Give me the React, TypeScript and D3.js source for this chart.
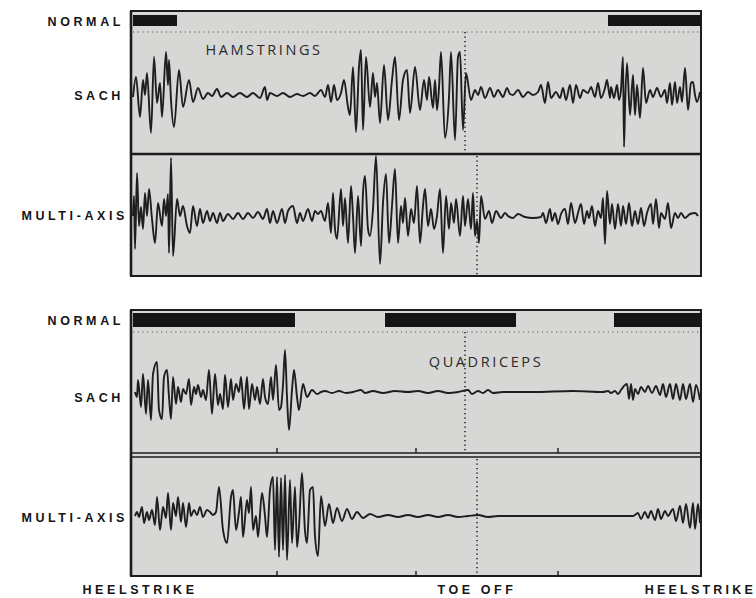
import React from 'react';
import * as d3 from 'd3';

// EMG traces, x = sample index across one gait cycle (0..567), y = amplitude (arbitrary units)
const hamSach: [number, number][] = [
  [0, -2], [3, 18], [7, -22], [10, 15], [12, 0], [14, 22], [18, -38], [21, 38], [24, -8], [27, 12], [29, -22],
  [33, 43], [35, 10], [36, 35], [38, -5], [41, -32], [46, 25], [50, -12], [56, 15], [60, -7], [65, 7], [70, -4],
  [75, 2], [79, -1], [84, 6], [88, -2], [94, 2], [100, -2], [107, 2], [114, -2], [120, 2], [127, -3], [132, 8],
  [134, -5], [137, 2], [144, -1], [150, 2], [157, -2], [164, 1], [170, -1], [177, 2], [182, -1],
  [185, 2], [188, 5], [192, -2], [195, 10], [198, -7], [201, 10], [204, -5], [208, 2], [211, 15], [215, -12],
  [217, -20], [220, 28], [223, -37], [226, 28], [228, 45], [230, -35], [233, 38], [237, -12], [240, 22], [242, -2],
  [244, 12], [247, -28], [251, 30], [255, -25], [259, 15], [262, 38], [266, -25], [270, 15], [274, 25], [277, -18],
  [282, 28], [287, -15], [291, 15], [294, -5], [296, 18], [300, -13], [302, 15], [304, -15], [306, 7], [308, 43],
  [312, -43], [316, -2], [318, 43], [322, -45], [325, 38], [327, 43], [330, -35], [333, 22], [338, -5], [342, 5],
  [345, 0], [348, 8], [352, -3], [357, 7], [361, -2], [365, 5], [370, -2], [374, 7],
  [377, 1], [380, 0], [385, 5], [390, -2], [395, 3], [400, 0], [405, 3], [408, 10], [412, -8], [415, 13], [418, -3],
  [423, 3], [427, -3], [430, 7], [433, -5], [437, 10], [440, -8], [443, 10], [447, -3], [450, 5], [455, 2], [458, 8],
  [462, -2], [465, 12], [468, -3], [472, 7], [474, 15], [477, -3], [478, 8], [481, -3], [484, 10], [486, -5],
  [488, 5], [490, 38], [491, -52], [492, -13], [494, 32], [497, -20], [500, 20], [502, -20], [504, 10], [507, -23],
  [510, 27], [513, -8], [517, 5], [520, -2], [524, 7], [528, -2], [532, 5], [534, -8], [537, 12], [539, -10],
  [542, 13], [544, -8], [547, 8], [549, -7], [552, 27], [555, -15], [558, 12], [560, 13], [562, 0], [564, -7], [567, 3],
];

const hamMulti: [number, number][] = [
  [0, 0], [1, 20], [2, -33], [4, 43], [6, -10], [8, 9], [10, -13], [12, 23], [14, 0], [16, 27], [19, -3], [22, -27],
  [25, 13], [29, -10], [31, 17], [33, 0], [35, 22], [36, -37], [38, 58], [40, -40], [44, 17], [47, 0], [50, 10],
  [54, -10], [57, -17], [60, 10], [64, -10], [67, 7], [70, -7], [74, 5], [77, -5], [80, 3], [84, -7], [87, 3],
  [90, -5], [95, 2], [100, -3], [105, 3], [110, -3], [115, 3], [120, -2], [125, 4], [130, -3], [134, 7], [137, -7],
  [140, 5], [144, -7], [149, 7], [152, -7], [155, 5], [160, 10], [164, -7], [167, 3], [170, -5], [175, 7], [179, -5],
  [182, 5], [185, 2], [188, 5], [192, -5], [195, 13], [198, -17], [200, 23], [202, -13], [204, -23], [208, 27],
  [210, -10], [212, 18], [215, -27], [218, 30], [220, 0], [222, -37], [225, 20], [228, -30], [230, 23], [232, 40],
  [235, -13], [237, -20], [240, 7], [243, 60], [247, -48], [250, 13], [253, 42], [256, -27], [259, 10], [262, 47],
  [265, -27], [268, 10], [270, -7], [272, 18], [275, -20], [278, 7], [281, -7], [284, 30], [287, -27], [290, 10],
  [292, 27], [295, -10], [298, 7], [301, -13], [304, 0], [307, 27], [310, -37], [313, 20], [316, -13], [318, 13],
  [321, -7], [323, 17], [327, -20], [330, 20], [332, -10], [335, 17], [338, -13], [340, 23], [342, -20], [344, -5],
  [346, -27], [348, 20], [352, -3], [356, 5], [359, -7], [363, 5], [368, -2], [372, 3], [375, 0], [380, -2],
  [385, 2], [392, -1], [400, -2], [408, -1], [410, 3], [413, -7], [417, 7], [419, -5], [422, 3], [425, -8], [428, 2],
  [432, 7], [435, -8], [438, 13], [442, -7], [445, 3], [448, 12], [451, -8], [454, 5], [456, -2], [459, 10],
  [462, -10], [465, 5], [468, -2], [470, 18], [472, -28], [474, 25], [477, -8], [479, 12], [482, -13], [485, 12],
  [488, -10], [490, 10], [493, -8], [496, 13], [499, -10], [502, 5], [505, -8], [508, 8], [511, -10], [514, 3],
  [518, 12], [520, -8], [523, 17], [526, -12], [528, 3], [532, -3], [535, 13], [538, -12], [542, 3], [545, -2],
  [548, 3], [552, -2], [557, 2], [562, 3], [565, 0],
];

const quadSach: [number, number][] = [
  [2, 0], [4, -5], [5, 12], [8, -15], [10, 18], [13, -22], [15, 12], [18, -28], [20, 18], [24, 30], [26, -18],
  [29, -27], [31, 15], [34, 22], [36, -5], [38, -27], [40, 15], [43, -12], [45, 5], [48, -10], [50, 3], [53, -2],
  [56, 13], [58, -13], [61, 5], [63, -2], [65, 7], [68, -5], [70, 2], [73, -8], [76, 22], [79, -22], [82, 18],
  [85, -13], [87, -2], [90, -17], [92, 17], [95, -15], [98, 13], [100, -8], [103, 8], [106, 0], [108, 15],
  [111, -17], [114, 15], [116, -17], [119, 8], [122, -8], [124, 5], [127, -12], [130, 13], [132, -5], [135, -12],
  [138, 15], [140, -8], [143, 27], [146, -18], [148, -15], [150, 7], [152, 42], [154, -5], [156, -38], [159, 2],
  [161, 22], [164, -5], [166, -18], [170, 8], [174, -5], [179, 2], [184, -2], [188, 0],
  [192, 1], [199, -1], [206, 1], [213, -1], [220, 0], [228, 2], [232, -1], [240, 1], [250, -1], [262, 1], [275, 0],
  [285, 1], [295, -1], [305, 1], [315, -1], [325, 0], [335, 2], [339, -2], [345, 1], [350, -1], [355, 2],
  [360, -1], [370, 0], [400, 0], [440, 1], [470, 0], [475, 1], [478, -1], [482, 1], [485, -2], [488, 2],
  [492, 7], [494, 8], [496, -7], [498, 8], [500, -8], [502, 3], [505, -2], [508, 5], [512, 0], [515, 6],
  [519, -1], [523, 6], [527, -3], [530, 8], [533, -5], [537, 8], [540, -7], [543, 8], [547, -8], [550, 8],
  [553, -7], [557, 8], [560, -10], [563, 7], [567, -8],
];

const quadMulti: [number, number][] = [
  [2, 0], [4, 4], [6, -1], [9, 9], [11, -7], [14, 4], [16, -4], [19, 6], [22, -9], [24, 19], [27, -14], [30, 9],
  [33, -2], [35, 23], [38, -14], [40, 13], [43, 0], [45, 19], [48, -6], [50, 13], [53, -11], [56, 13], [58, 0],
  [61, 6], [64, 1], [67, 9], [70, -1], [74, 6], [77, 4], [80, 1], [83, 4], [86, 29], [90, -14], [94, -27],
  [98, 19], [100, 26], [103, -14], [106, 4], [108, 19], [110, -21], [114, 16], [116, 3], [118, 29], [120, -14],
  [123, 0], [125, -21], [129, 23], [132, 0], [134, -21], [137, 26], [140, 39], [142, -34], [144, 39], [146, -41],
  [148, 38], [150, -34], [152, 41], [154, -44], [157, 36], [159, -27], [162, 29], [164, -31], [166, -10],
  [169, 43], [172, -15], [174, -27], [177, 26], [180, 29], [182, -20], [185, -40], [188, 20], [192, -10],
  [196, 12], [200, -7], [204, 8], [209, -5], [214, 7], [219, -3], [224, 4], [230, -2], [237, 2], [245, -1],
  [255, 1], [265, -1], [275, 1], [285, -1], [295, 1], [305, -1], [315, 1], [325, -1], [335, 0], [345, 1],
  [355, -1], [365, 0], [400, 0], [430, 0], [500, 0], [505, 3], [508, -3], [512, 4], [515, -2], [518, 5],
  [522, -4], [525, 7], [528, -3], [532, 5], [535, 0], [540, 7], [543, -5], [547, 10], [550, -7], [553, 12],
  [557, -12], [560, 13], [562, -13], [565, 12], [567, -7],
];

// periods of normal muscle activity (sample ranges)
const hamNormal: [number, number][] = [[0, 44], [475, 568]];
const quadNormal: [number, number][] = [[0, 162], [252, 383], [481, 569]];

// toe off marker for SACH and MULTI-AXIS, small ticks under the quadriceps traces
const toeOff = [332, 344];
const quadTicks = [144, 283, 425];

const rowLabels = ['NORMAL', 'SACH', 'MULTI-AXIS'];
const footLabels = ['HEELSTRIKE', 'TOE OFF', 'HEELSTRIKE'];

const W = 756;
const H = 598;
const x = d3.scaleLinear().domain([0, 567]).range([133, 700]);

const panels = [
  {
    title: 'HAMSTRINGS', titleX: 264, titleY: 55,
    top: 11, bottom: 276, divider: [154], barY: 15, barH: 11, dotY: 32,
    sachBase: 95, multiBase: 216, normal: hamNormal, sach: hamSach, multi: hamMulti, ticks: [] as number[],
    labelY: [26, 100, 220],
  },
  {
    title: 'QUADRICEPS', titleX: 486, titleY: 367,
    top: 310, bottom: 576, divider: [453, 457], barY: 313, barH: 14, dotY: 332,
    sachBase: 392, multiBase: 516, normal: quadNormal, sach: quadSach, multi: quadMulti, ticks: quadTicks,
    labelY: [325, 402, 522],
  },
];

const labelStyle: React.CSSProperties = {
  fontFamily: 'Liberation Sans, Arial, sans-serif',
  fontWeight: 700,
  fontSize: 12.5,
  letterSpacing: 3.6,
};

function Panel({ p }: { p: typeof panels[number] }) {
  const ySach = d3.scaleLinear().domain([-60, 60]).range([p.sachBase + 60, p.sachBase - 60]);
  const yMulti = d3.scaleLinear().domain([-60, 60]).range([p.multiBase + 60, p.multiBase - 60]);
  const lineS = d3.line<[number, number]>().x(d => x(d[0])).y(d => ySach(d[1])).curve(d3.curveMonotoneX);
  const lineM = d3.line<[number, number]>().x(d => x(d[0])).y(d => yMulti(d[1])).curve(d3.curveMonotoneX);
  const midDiv = p.divider[0];
  const lastDiv = p.divider[p.divider.length - 1];
  return (
    <g>
      <rect x={x(0) - 2} y={p.top} width={x(567) - x(0) + 3} height={p.bottom - p.top}
        fill="#d7d7d5" stroke="#1c1c1c" strokeWidth={2} />
      <line x1={x(0) - 2} x2={x(0) - 2} y1={p.top} y2={p.bottom} stroke="#1c1c1c" strokeWidth={2.6} />
      {p.normal.map((n, i) => (
        <rect key={i} x={x(n[0])} y={p.barY} width={x(n[1]) - x(n[0])} height={p.barH} fill="#151515" />
      ))}
      <line x1={x(0)} x2={x(567)} y1={p.dotY} y2={p.dotY} stroke="#555" strokeWidth={1} strokeDasharray="1.2,3.5" />
      {p.divider.map((d, i) => (
        <line key={i} x1={x(0) - 3} x2={x(567) + 1} y1={d} y2={d} stroke="#1c1c1c" strokeWidth={p.divider.length > 1 ? 1.6 : 2.4} />
      ))}
      <line x1={x(toeOff[0])} x2={x(toeOff[0])} y1={p.dotY} y2={midDiv - 2} stroke="#222" strokeWidth={1.6} strokeDasharray="1.3,3.2" />
      <line x1={x(toeOff[1])} x2={x(toeOff[1])} y1={lastDiv + 2} y2={p.bottom} stroke="#222" strokeWidth={1.6} strokeDasharray="1.3,3.2" />
      {p.ticks.map((t, i) => (
        <g key={i}>
          <line x1={x(t)} x2={x(t)} y1={midDiv - 5} y2={midDiv} stroke="#1c1c1c" strokeWidth={1.4} />
          <line x1={x(t)} x2={x(t)} y1={p.bottom - 5} y2={p.bottom} stroke="#1c1c1c" strokeWidth={1.4} />
        </g>
      ))}
      <text x={p.titleX} y={p.titleY} textAnchor="middle" fill="#2a2a2a"
        style={{ fontFamily: 'Open Sans, sans-serif', fontSize: 14.5, letterSpacing: 2.6 }}>{p.title}</text>
      <path d={lineS(p.sach) || ''} fill="none" stroke="#1e1e1e" strokeWidth={1.9} strokeLinejoin="round" />
      <path d={lineM(p.multi) || ''} fill="none" stroke="#1e1e1e" strokeWidth={1.9} strokeLinejoin="round" />
      {rowLabels.map((l, i) => (
        <text key={l} x={i === 2 ? 128 : 124} y={p.labelY[i]} textAnchor="end" fill="#151515" style={labelStyle}>{l}</text>
      ))}
    </g>
  );
}

export default function App() {
  const footX = [140, 477, 756];
  const footAnchor = ['middle', 'middle', 'end'];
  return (
    <svg width={W} height={H} style={{ position: 'absolute', left: 0, top: 0, background: '#fff' }}>
      {panels.map(p => <Panel key={p.title} p={p} />)}
      {footLabels.map((l, i) => (
        <text key={i} x={footX[i]} y={594} textAnchor={footAnchor[i]} fill="#151515"
          style={{ ...labelStyle, letterSpacing: i === 2 ? 3.2 : 3.6 }}>{l}</text>
      ))}
    </svg>
  );
}
